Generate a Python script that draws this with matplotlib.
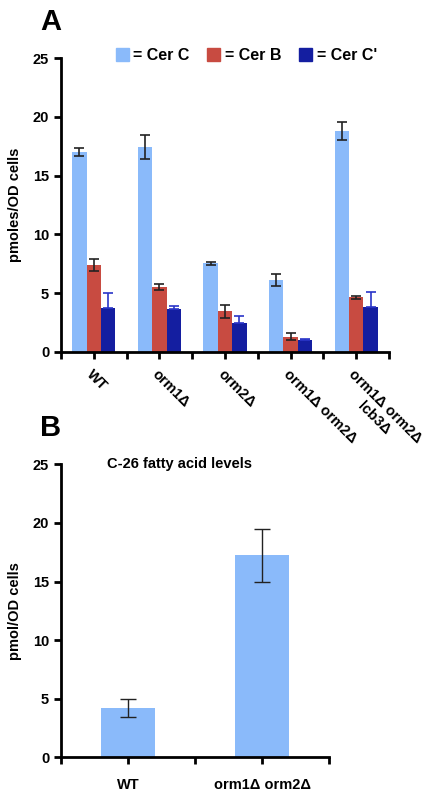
import matplotlib.pyplot as plt
import numpy as np
from matplotlib.patches import Patch

plt.rcParams['font.family'] = ['Liberation Sans', 'DejaVu Sans']
plt.rcParams['font.weight'] = 'bold'

# Panel A data
strains = ['WT', 'orm1Δ', 'orm2Δ', 'orm1Δ orm2Δ', 'orm1Δ orm2Δ\nlcb3Δ']
cer_c = [17.0, 17.45, 7.55, 6.1, 18.8]
cer_c_err = [0.35, 1.0, 0.12, 0.5, 0.75]
cer_b = [7.4, 5.5, 3.45, 1.3, 4.65]
cer_b_err = [0.5, 0.25, 0.55, 0.3, 0.12]
cer_c2 = [3.7, 3.65, 2.5, 1.0, 3.8]
cer_c2_err = [1.3, 0.3, 0.6, 0.12, 1.3]

# Panel B data
strains_b = ['WT', 'orm1Δ orm2Δ']
c26 = [4.2, 17.25]
c26_err = [0.77, 2.25]

col_c = '#8abafa'
col_b = '#c84b41'
col_c2 = '#141ea0'

fig = plt.figure(figsize=(4.29, 7.96), dpi=100)

def style_axes(ax):
    for s in ['top', 'right']:
        ax.spines[s].set_visible(False)
    for s in ['left', 'bottom']:
        ax.spines[s].set_linewidth(2.0)
    ax.tick_params(which='both', direction='out', length=5, width=2, labelsize=10.5)
    ax.set_ylim(0, 25)
    ax.set_yticks([0, 5, 10, 15, 20, 25])

# ---- Panel A
ax1 = fig.add_axes([0.1422, 0.5578, 0.7646, 0.3693])
style_axes(ax1)
x = np.arange(len(strains))
w = 0.22
ax1.bar(x - w, cer_c, w, color=col_c, yerr=cer_c_err, capsize=3.5,
        error_kw=dict(ecolor='#222222', elinewidth=1.2, capthick=1.2))
ax1.bar(x, cer_b, w, color=col_b, yerr=cer_b_err, capsize=3.5,
        error_kw=dict(ecolor='#222222', elinewidth=1.2, capthick=1.2))
# dark blue bars: only the upper half of the error bar shows
ax1.bar(x + w, cer_c2, w, color=col_c2,
        yerr=[np.zeros(len(cer_c2)), cer_c2_err], capsize=3.5,
        error_kw=dict(ecolor='#2a35c8', elinewidth=1.2, capthick=1.2))
ax1.set_xlim(-0.5, len(strains) - 0.5)
ax1.set_xticks(np.arange(len(strains) + 1) - 0.5)
ax1.set_xticklabels([])
ax1.set_xticks(x, minor=True)
ax1.set_xticklabels(strains, minor=True, rotation=-45, ha='left', va='top',
                    rotation_mode='anchor', multialignment='center', fontsize=10.5)
ax1.tick_params(axis='x', which='minor', pad=6)
ax1.set_ylabel('pmoles/OD cells', fontsize=10.5, fontweight='bold', labelpad=8)

handles = [Patch(color=col_c, label='= Cer C'),
           Patch(color=col_b, label='= Cer B'),
           Patch(color=col_c2, label="= Cer C'")]
ax1.legend(handles=handles, ncol=3, frameon=False, loc='center',
           bbox_to_anchor=(0.565, 1.01), handlelength=0.8, handleheight=0.9,
           handletextpad=0.3, columnspacing=1.1, fontsize=11.5)

fig.text(0.093, 0.972, 'A', fontsize=21, fontweight='bold', va='center')

# ---- Panel B
ax2 = fig.add_axes([0.1422, 0.0486, 0.6247, 0.3681])
style_axes(ax2)
xb = np.arange(len(strains_b))
ax2.bar(xb, c26, 0.4, color=col_c, yerr=c26_err, capsize=5.5,
        error_kw=dict(ecolor='#222222', elinewidth=1.0, capthick=1.0))
ax2.set_xlim(-0.5, len(strains_b) - 0.5)
ax2.set_xticks(np.arange(len(strains_b) + 1) - 0.5)
ax2.set_xticklabels([])
ax2.set_xticks(xb, minor=True)
ax2.set_xticklabels(strains_b, minor=True, fontsize=10.5)
ax2.tick_params(axis='x', which='minor', pad=10)
ax2.set_ylabel('pmol/OD cells', fontsize=10.5, fontweight='bold', labelpad=8)
ax2.text(0.17, 1.0, 'C-26 fatty acid levels', transform=ax2.transAxes,
         fontsize=10.5, va='center', ha='left')

fig.text(0.093, 0.462, 'B', fontsize=21, fontweight='bold', va='center')

fig.savefig('out.png', dpi=100)
